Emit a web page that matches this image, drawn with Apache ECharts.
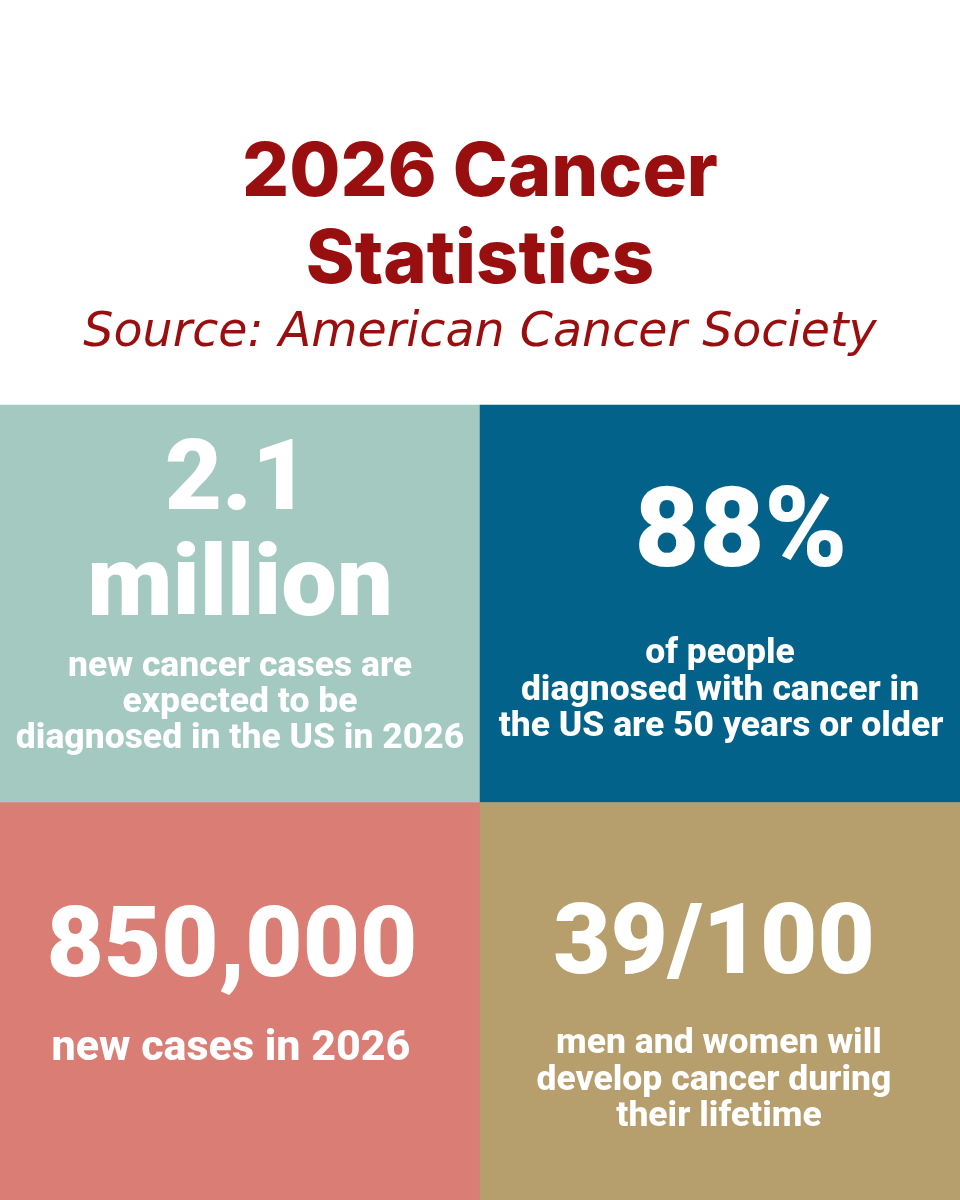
<!DOCTYPE html>
<html>
<head>
<meta charset="utf-8">
<title>2026 Cancer Statistics</title>
<script src="https://cdn.jsdelivr.net/npm/echarts@6/dist/echarts.min.js"></script>
<style>
html, body { margin: 0; padding: 0; background: #fff; }
#main { width: 960px; height: 1200px; }
</style>
</head>
<body>
<div id="main"></div>
<script>
var titleLines = ['2026 Cancer', 'Statistics'];
var sourceLine = 'Source: American Cancer Society';
var columns = ['left', 'right'];
var rows = ['bottom', 'top'];
// column, row, tile index
var tileCells = [[0, 1, 0], [1, 1, 1], [0, 0, 2], [1, 0, 3]];
var tileColors = ['#a3c9c0', '#026289', '#d97d75', '#b69f6d'];
var bigLines = [['2.1', 'million'], ['88%'], ['850,000'], ['39/100']];
var captionLines = [
    ['new cancer cases are', 'expected to be', 'diagnosed in the US in 2026'],
    ['of people', 'diagnosed with cancer in', 'the US are 50 years or older'],
    ['new cases in 2026'],
    ['men and women will', 'develop cancer during', 'their lifetime']
];

var titleY = [174, 261];
var bigPos = [[[237, 484], [240, 590]], [[741, 538]], [[232, 951]], [[714, 948]]];
var capPos = [
    [[240, 667], [240, 703], [240, 739]],
    [[720, 654], [720, 691], [721, 727]],
    [[231, 1049]],
    [[719, 1044], [714, 1081], [719, 1117]]
];
// font sizes per tile, the tiles are not all set the same in the original
var bigSize = [99, 112, 99, 99];
var capSize = [35.5, 35.5, 43, 35.5];

function textItem(str, x, y, font, color) {
    return {
        type: 'text',
        x: x,
        y: y,
        z: 10,
        style: { text: str, font: font, fill: color, align: 'center', verticalAlign: 'middle' }
    };
}

var items = [];
var RED = '#990f0f';
titleLines.forEach(function (s, i) {
    items.push(textItem(s, 480, titleY[i], '800 74px Inter', RED));
});
items.push(textItem(sourceLine, 480, 334, 'italic 400 47.5px "DejaVu Sans"', RED));
bigLines.forEach(function (lines, t) {
    lines.forEach(function (s, i) {
        items.push(textItem(s, bigPos[t][i][0], bigPos[t][i][1], '900 ' + bigSize[t] + 'px Roboto', '#fff'));
    });
});
captionLines.forEach(function (lines, t) {
    lines.forEach(function (s, i) {
        items.push(textItem(s, capPos[t][i][0], capPos[t][i][1], '800 ' + capSize[t] + 'px Roboto', '#fff'));
    });
});

var myChart = echarts.init(document.getElementById('main'));
myChart.setOption({
    animation: false,
    backgroundColor: '#fff',
    grid: { left: 0, right: 0, top: 405, bottom: 0 },
    xAxis: { type: 'category', data: columns, show: false },
    yAxis: { type: 'category', data: rows, show: false },
    series: [{
        type: 'heatmap',
        silent: true,
        data: tileCells.map(function (c) {
            return { value: c, itemStyle: { color: tileColors[c[2]] } };
        })
    }],
    graphic: { elements: items }
});
</script>
</body>
</html>
